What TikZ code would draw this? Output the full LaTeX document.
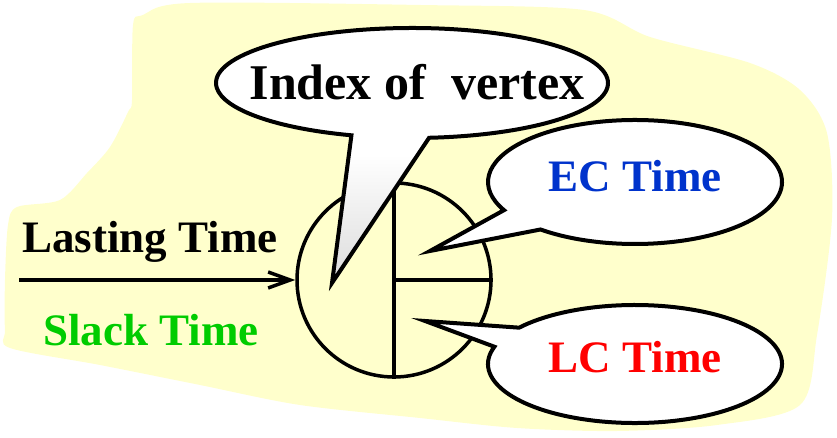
\documentclass[tikz,border=0pt]{standalone}
\usepackage{fontspec}
\setmainfont{Liberation Serif}
\usetikzlibrary{arrows.meta}
\definecolor{blobyellow}{RGB}{255,255,204}
\definecolor{ecblue}{RGB}{0,51,204}
\definecolor{lcred}{RGB}{255,0,0}
\definecolor{slackgreen}{RGB}{0,204,0}
\tikzset{
  bubble/.style={draw,line width=4pt,fill=white,line join=miter},
  tag/.style={font=\fontsize{45}{50}\selectfont\bfseries,inner sep=0pt,anchor=base}
}

\begin{document}
\begin{tikzpicture}[x=1pt,y=1pt]
  \useasboundingbox (0,0) rectangle (837,438);
  % background
  \fill[blobyellow] plot[smooth cycle,tension=0.5] coordinates {(133,413) (132,338) (128,326) (110,291) (87,265) (60,238) (17,231) (8,213) (5,158) (5,108) (10,90) (100,73) (200,53) (300,33) (420,20) (517,10) (617,7) (717,13) (800,33) (817,103) (832,220) (827,305) (800,348) (750,375) (650,401) (584,428) (420,433) (190,435) (143,423)};
  % vertex
  \node (Vertex) [circle,draw,line width=3.5pt,minimum size=194pt,inner sep=0pt] at (394,158) {};
  \draw[line width=3.5pt] (Vertex.north) -- (Vertex.south);
  \draw[line width=3.5pt] (Vertex.center) -- (Vertex.east);
  % incoming edge
  \coordinate (EdgeStart) at (19,158);
  \draw[line width=3.5pt,-{Straight Barb[length=22pt,width=16pt]}] (EdgeStart) -- (Vertex.west);
  \node (Lasting) [tag] at (150,185) {Lasting Time};
  \node (Slack) [tag,text=slackgreen] at (151,92) {Slack Time};
  % callouts
  \coordinate (IndexC) at (412,355);
  \coordinate (IndexTip) at (332,155);
  \draw[bubble,top color=white,bottom color=black!14,middle color=white] (IndexC) ++(-85:196 and 55) arc[start angle=-85,end angle=252,x radius=196,y radius=55] -- (IndexTip) -- cycle;
  \node (Index) [tag,font=\fontsize{50}{55}\selectfont\bfseries] at (417,338) {Index of~~vertex};
  \coordinate (ECC) at (635,256);
  \coordinate (ECTip) at (430,187);
  \draw[bubble] (ECC) ++(230:147 and 62) arc[start angle=230,end angle=567,x radius=147,y radius=62] -- (ECTip) -- cycle;
  \node (ECTime) [tag,text=ecblue] at (635,246) {EC Time};
  \coordinate (LCC) at (635,74);
  \coordinate (LCTip) at (425,117);
  \draw[bubble] (LCC) ++(163:147 and 59) arc[start angle=163,end angle=502,x radius=147,y radius=59] -- (LCTip) -- cycle;
  \node (LCTime) [tag,text=lcred] at (635,65) {LC Time};
\end{tikzpicture}
\end{document}
